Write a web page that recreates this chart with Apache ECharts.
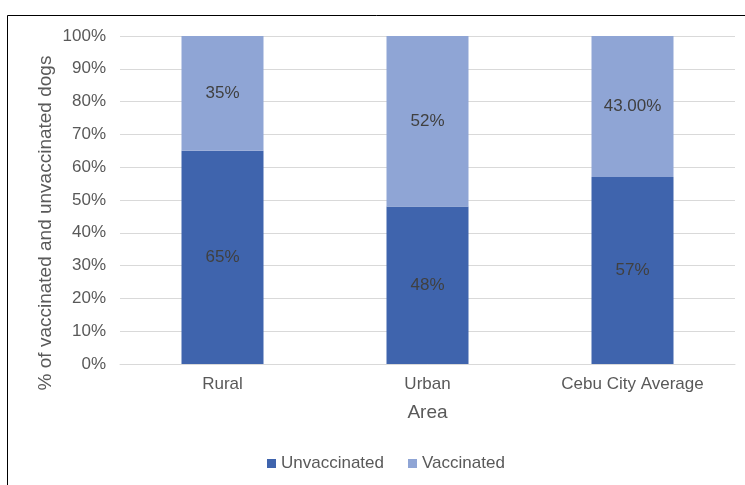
<!DOCTYPE html>
<html>
<head>
<meta charset="utf-8">
<script src="https://cdn.jsdelivr.net/npm/echarts@6/dist/echarts.min.js"></script>
<style>
  html, body { margin: 0; padding: 0; background: #fff; }
  #chart { width: 745px; height: 485px; }
</style>
</head>
<body>
<div id="chart"></div>
<script>
const areas = ['Rural', 'Urban', 'Cebu City Average']
const unvaccinated = [65, 48, 57]
const vaccinated = [35, 52, 43]
const unvaccinatedLabels = ['65%', '48%', '57%']
const vaccinatedLabels = ['35%', '52%', '43.00%']
const yTicks = [0, 10, 20, 30, 40, 50, 60, 70, 80, 90, 100]

const font = 'Liberation Sans, Arial, sans-serif'
const chart = echarts.init(document.getElementById('chart'))

chart.setOption({
  backgroundColor: '#fff',
  animation: false,
  textStyle: { fontFamily: font },
  graphic: [
    {
      type: 'rect',
      shape: { x: 7.5, y: 15.5, width: 800, height: 600 },
      style: { fill: 'none', stroke: '#000', lineWidth: 1 },
      silent: true
    }
  ],
  grid: {
    left: 120,
    right: 10,
    top: 36,
    bottom: 121
  },
  legend: {
    bottom: 8,
    left: 262,
    itemWidth: 9,
    itemHeight: 9,
    itemGap: 24,
    icon: 'rect',
    textStyle: { color: '#595959', fontSize: 17, fontFamily: font }
  },
  xAxis: {
    type: 'category',
    data: areas,
    name: 'Area',
    nameLocation: 'middle',
    nameGap: 39,
    nameTextStyle: { color: '#595959', fontSize: 19, fontFamily: font },
    axisLine: { lineStyle: { color: '#d9d9d9', width: 1 } },
    axisTick: { show: false },
    axisLabel: { color: '#595959', fontSize: 17, margin: 12, fontFamily: font }
  },
  yAxis: {
    type: 'value',
    min: yTicks[0],
    max: yTicks[yTicks.length - 1],
    interval: 10,
    name: '% of vaccinated and unvaccinated dogs',
    nameLocation: 'middle',
    nameGap: 65,
    nameMoveOverlap: false,
    nameTextStyle: { color: '#595959', fontSize: 19, fontFamily: font, padding: [0, 46, 0, 0] },
    axisLine: { show: false },
    axisTick: { show: false },
    splitLine: { lineStyle: { color: '#d9d9d9', width: 1 } },
    axisLabel: {
      color: '#595959',
      fontSize: 17,
      margin: 14,
      fontFamily: font,
      formatter: v => v + '%'
    }
  },
  series: [
    {
      name: 'Unvaccinated',
      type: 'bar',
      stack: 'total',
      barWidth: '40%',
      data: unvaccinated,
      itemStyle: { color: '#3F64AD' },
      label: {
        show: true,
        position: 'inside',
        color: '#404040',
        fontSize: 17,
        fontFamily: font,
        formatter: p => unvaccinatedLabels[p.dataIndex]
      }
    },
    {
      name: 'Vaccinated',
      type: 'bar',
      stack: 'total',
      barWidth: '40%',
      data: vaccinated,
      itemStyle: { color: '#8FA5D5' },
      label: {
        show: true,
        position: 'inside',
        color: '#404040',
        fontSize: 17,
        fontFamily: font,
        formatter: p => vaccinatedLabels[p.dataIndex]
      }
    }
  ]
})
</script>
</body>
</html>
